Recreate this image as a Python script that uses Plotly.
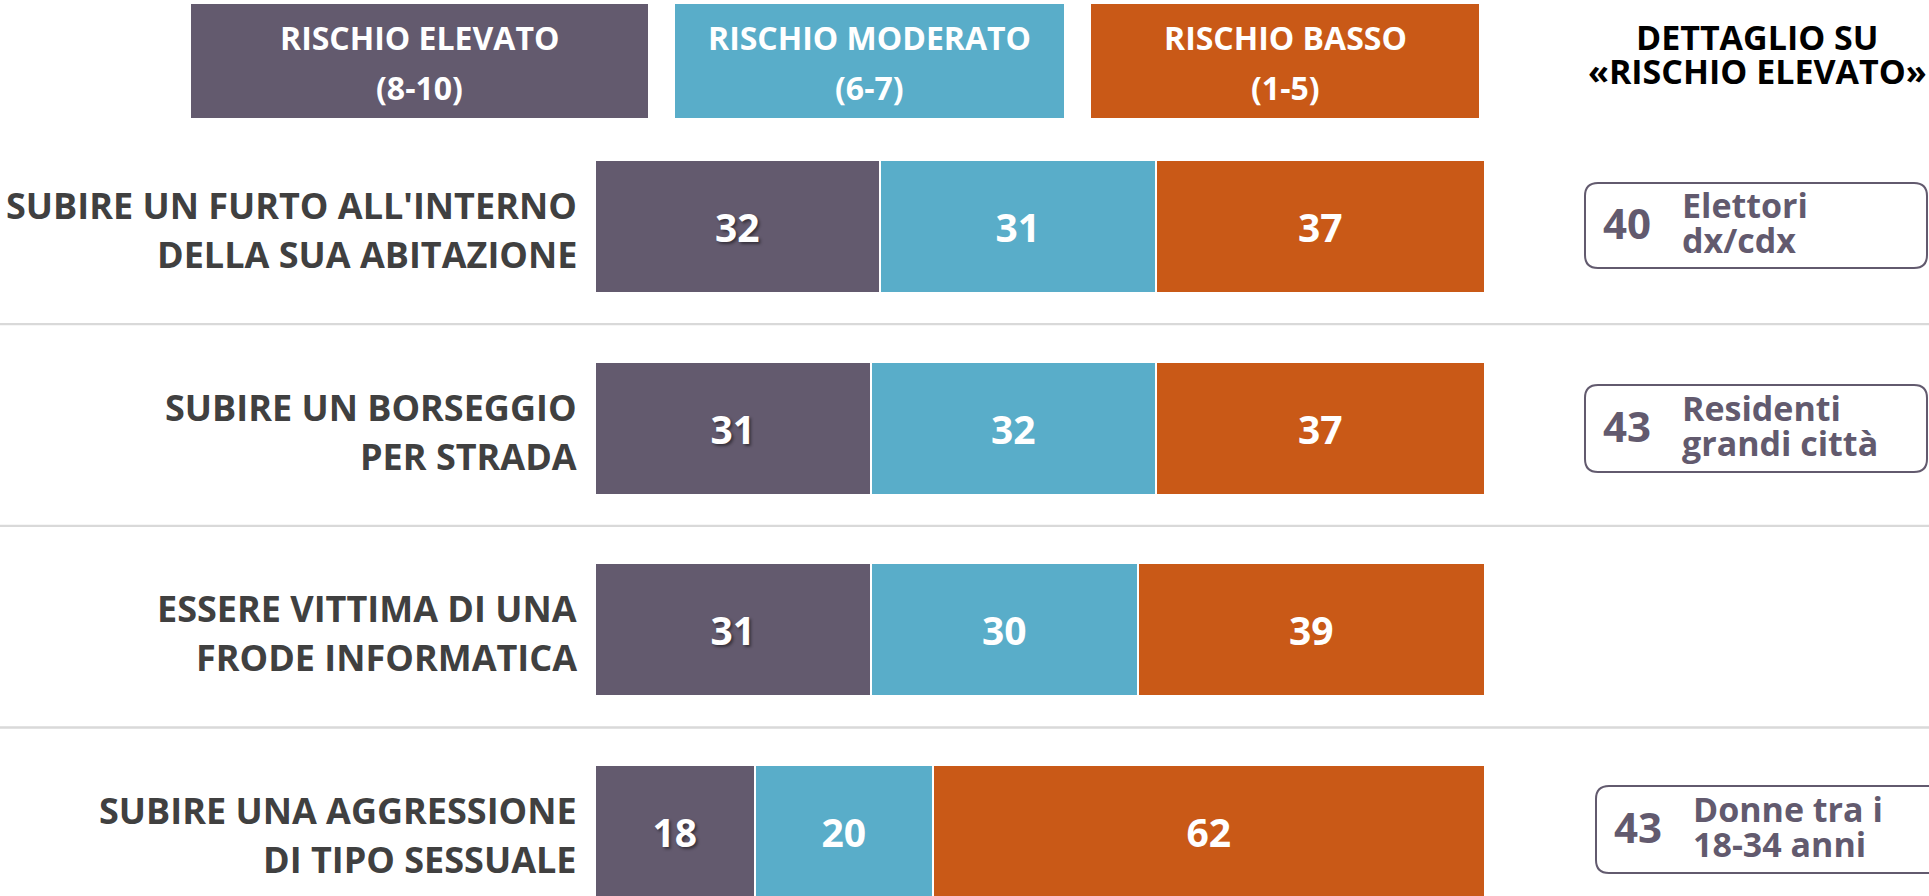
import plotly.graph_objects as go

# ---------------- data ----------------
categories = [
    "SUBIRE UN FURTO ALL'INTERNO<br>DELLA SUA ABITAZIONE",
    "SUBIRE UN BORSEGGIO<br>PER STRADA",
    "ESSERE VITTIMA DI UNA<br>FRODE INFORMATICA",
    "SUBIRE UNA AGGRESSIONE<br>DI TIPO SESSUALE",
]
series_names = ["RISCHIO ELEVATO", "RISCHIO MODERATO", "RISCHIO BASSO"]
series_ranges = ["(8-10)", "(6-7)", "(1-5)"]
rischio_elevato = [32, 31, 31, 18]
rischio_moderato = [31, 32, 30, 20]
rischio_basso = [37, 37, 39, 62]
detail_title = ["DETTAGLIO SU", "«RISCHIO ELEVATO»"]
detail_values = [40, 43, None, 43]
detail_line1 = ["Elettori", "Residenti", None, "Donne tra i"]
detail_line2 = ["dx/cdx", "grandi città", None, "18-34 anni"]

# ---------------- style ----------------
W, H = 1929, 896
FONT = "Open Sans"
colors = ["#635a6e", "#59adc9", "#c95917"]
TEXT_GRAY = "#404040"
PURPLE = "#625a6e"


def px(x):
    return x / W


def py(y):
    return 1 - y / H


ypos = list(range(len(categories)))
series_values = [rischio_elevato, rischio_moderato, rischio_basso]
shadows = ["2px 2px 3px rgba(0,0,0,0.45)", "none", "none"]

fig = go.Figure()
for name, vals, col, sh in zip(series_names, series_values, colors, shadows):
    fig.add_trace(go.Bar(
        y=ypos, x=vals, name=name, orientation="h",
        marker=dict(color=col, line=dict(color="white", width=2.5)),
        width=0.66,
        text=vals, texttemplate="%{text}",
        textposition="inside", insidetextanchor="middle", textangle=0,
        textfont=dict(family=FONT, size=39, color="white", weight=700, shadow=sh),
        hoverinfo="skip",
    ))

shapes = []
annotations = []

# category labels (two lines each, right-aligned next to the bars)
for i, cat in enumerate(categories):
    lines = cat.split("<br>")
    for ln, shift in zip(lines, [21, -28]):
        annotations.append(dict(xref="paper", yref="y", x=px(579), y=i, yshift=shift,
                                text=ln, showarrow=False, xanchor="right", yanchor="middle",
                                font=dict(family=FONT, size=36, color=TEXT_GRAY, weight=700)))

# separator lines between rows
for i in range(len(categories) - 1):
    shapes.append(dict(type="line", xref="paper", yref="y", x0=0, x1=1,
                       y0=i + 0.484, y1=i + 0.484,
                       line=dict(color="#d9d9d9", width=2.3), layer="below"))

# header boxes (legend-like)
hdr_boxes = [(191, 648), (675, 1064), (1091, 1479)]
for (x0, x1), col, nm, rg in zip(hdr_boxes, colors, series_names, series_ranges):
    shapes.append(dict(type="rect", xref="paper", yref="paper",
                       x0=px(x0), x1=px(x1), y0=py(118), y1=py(4),
                       fillcolor=col, line=dict(width=0)))
    cx = px((x0 + x1) / 2)
    annotations.append(dict(xref="paper", yref="paper", x=cx, y=py(37),
                            text=nm, showarrow=False, xanchor="center", yanchor="middle",
                            font=dict(family=FONT, size=32, color="white", weight=700)))
    annotations.append(dict(xref="paper", yref="paper", x=cx, y=py(88),
                            text=rg, showarrow=False, xanchor="center", yanchor="middle",
                            font=dict(family=FONT, size=32, color="white", weight=700)))

# detail title
for t, yy in zip(detail_title, [37, 71]):
    annotations.append(dict(xref="paper", yref="paper", x=px(1757), y=py(yy),
                            text=t, showarrow=False, xanchor="center", yanchor="middle",
                            font=dict(family=FONT, size=34, color="black", weight=700)))


def rrect(x0, y0, x1, y1, r):
    pts = [
        ("M", [(x0 + r, y0)]), ("L", [(x1 - r, y0)]), ("Q", [(x1, y0), (x1, y0 + r)]),
        ("L", [(x1, y1 - r)]), ("Q", [(x1, y1), (x1 - r, y1)]), ("L", [(x0 + r, y1)]),
        ("Q", [(x0, y1), (x0, y1 - r)]), ("L", [(x0, y0 + r)]), ("Q", [(x0, y0), (x0 + r, y0)]),
    ]
    s = ""
    for cmd, ps in pts:
        s += cmd + " " + " ".join(f"{px(a):.6f},{py(b):.6f}" for a, b in ps) + " "
    return s + "Z"


# detail boxes (pixel geometry per row)
det_geom = {0: (1585, 183, 1927, 268), 1: (1585, 385, 1927, 472), 3: (1596, 786, 1940, 873)}
for i, (v, l1, l2) in enumerate(zip(detail_values, detail_line1, detail_line2)):
    if v is None:
        continue
    x0, y0, x1, y1 = det_geom[i]
    shapes.append(dict(type="path", xref="paper", yref="paper",
                       path=rrect(x0, y0, x1, y1, 13),
                       line=dict(color=PURPLE, width=2), fillcolor="rgba(0,0,0,0)"))
    cy = (y0 + y1) / 2
    annotations.append(dict(xref="paper", yref="paper", x=px(x0 + 42), y=py(cy - 3),
                            text=str(v), showarrow=False, xanchor="center", yanchor="middle",
                            font=dict(family=FONT, size=42, color=PURPLE, weight=700)))
    annotations.append(dict(xref="paper", yref="paper", x=px(x0 + 95), y=py(cy - 21),
                            text=l1, showarrow=False, xanchor="left", yanchor="middle",
                            font=dict(family=FONT, size=34, color=PURPLE, weight=700)))
    annotations.append(dict(xref="paper", yref="paper", x=px(x0 + 95), y=py(cy + 14),
                            text=l2, showarrow=False, xanchor="left", yanchor="middle",
                            font=dict(family=FONT, size=34, color=PURPLE, weight=700)))

# y range mapping: row centers at 226.5 px, pitch 201.7 px
pitch = 201.7
c0 = 226.5
y_top = (0 - c0) / pitch
y_bot = (H - c0) / pitch

fig.update_layout(
    width=W, height=H,
    margin=dict(l=0, r=0, t=0, b=0),
    barmode="stack",
    bargap=0,
    showlegend=False,
    paper_bgcolor="white", plot_bgcolor="white",
    xaxis=dict(domain=[px(595), px(1485)], range=[0, 100], visible=False, fixedrange=True),
    yaxis=dict(range=[y_bot, y_top], tickvals=ypos, showticklabels=False,
               showgrid=False, zeroline=False, showline=False, ticks="",
               fixedrange=True),
    shapes=shapes,
    annotations=annotations,
)

fig.write_html(
    "out.html",
    config={"displayModeBar": False},
    post_script="document.body.style.margin='0px';document.documentElement.style.overflow='hidden';",
)
